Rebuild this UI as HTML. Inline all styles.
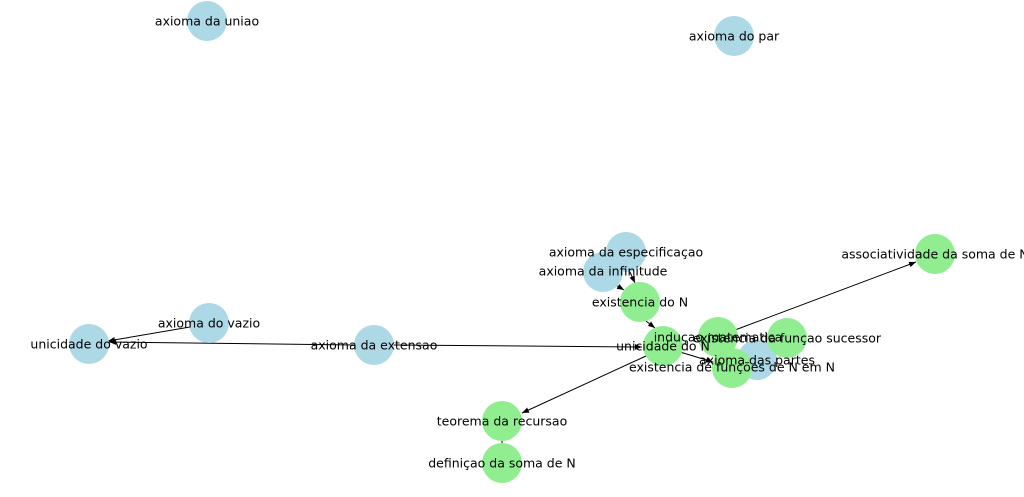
<!DOCTYPE html>
<html><head><meta charset="utf-8"><style>body{margin:0;background:#fff}svg{display:block}text{font-family:"DejaVu Sans","Liberation Sans",sans-serif;font-size:12.5px;fill:#000;text-anchor:middle;dominant-baseline:central}</style></head><body>
<svg width="1024" height="497" viewBox="0 0 1024 497">
<defs><marker id="a" viewBox="0 0 10 10" refX="10" refY="5" markerWidth="7" markerHeight="7" orient="auto"><path d="M0,1L10,5L0,9z" fill="#000"/></marker></defs>
<g stroke="#000" stroke-width="1" fill="none">
<line x1="190" y1="327" x2="108" y2="341" marker-end="url(#a)"/>
<line x1="354" y1="345" x2="109" y2="342" marker-end="url(#a)"/>
<line x1="394" y1="345" x2="642" y2="347" marker-end="url(#a)"/>
<line x1="630" y1="272" x2="635" y2="283" marker-end="url(#a)"/>
<line x1="614" y1="284" x2="624" y2="290" marker-end="url(#a)"/>
<line x1="646" y1="321" x2="655" y2="328" marker-end="url(#a)"/>
<line x1="680" y1="352" x2="713" y2="362" marker-end="url(#a)"/>
<line x1="735" y1="330" x2="916" y2="262" marker-end="url(#a)"/>
<line x1="646" y1="356" x2="522" y2="413" marker-end="url(#a)"/>
<line x1="502" y1="441" x2="502" y2="443"/>
</g>
<g fill="#add8e6">
<circle cx="207" cy="21" r="20"/><circle cx="734" cy="36" r="20"/>
<circle cx="626" cy="252" r="20"/><circle cx="603" cy="272" r="20"/>
<circle cx="209" cy="323" r="20"/><circle cx="89" cy="344" r="20"/>
<circle cx="374" cy="345" r="20"/><circle cx="757" cy="360" r="20"/>
</g>
<g fill="#90ee90">
<circle cx="640" cy="302" r="20"/><circle cx="935" cy="254" r="20"/>
<circle cx="663" cy="346" r="20"/><circle cx="718" cy="337" r="20"/>
<circle cx="787" cy="338" r="20"/><circle cx="732" cy="368" r="20"/>
<circle cx="502" cy="421" r="20"/><circle cx="502" cy="463" r="20"/>
</g>
<text x="207" y="21">axioma da uniao</text>
<text x="734" y="36">axioma do par</text>
<text x="626" y="252">axioma da especificaçao</text>
<text x="603" y="271">axioma da infinitude</text>
<text x="640" y="302">existencia do N</text>
<text x="935" y="254">associatividade da soma de N</text>
<text x="209" y="323">axioma do vazio</text>
<text x="89" y="344">unicidade do vazio</text>
<text x="374" y="345">axioma da extensao</text>
<text x="663" y="346">unicidade do N</text>
<text x="718" y="337">induçao matematica</text>
<text x="787" y="338">existencia da funçao sucessor</text>
<text x="757" y="360">axioma das partes</text>
<text x="732" y="367">existencia de funções de N em N</text>
<text x="502" y="421">teorema da recursao</text>
<text x="502" y="463">definiçao da soma de N</text>
</svg></body></html>
